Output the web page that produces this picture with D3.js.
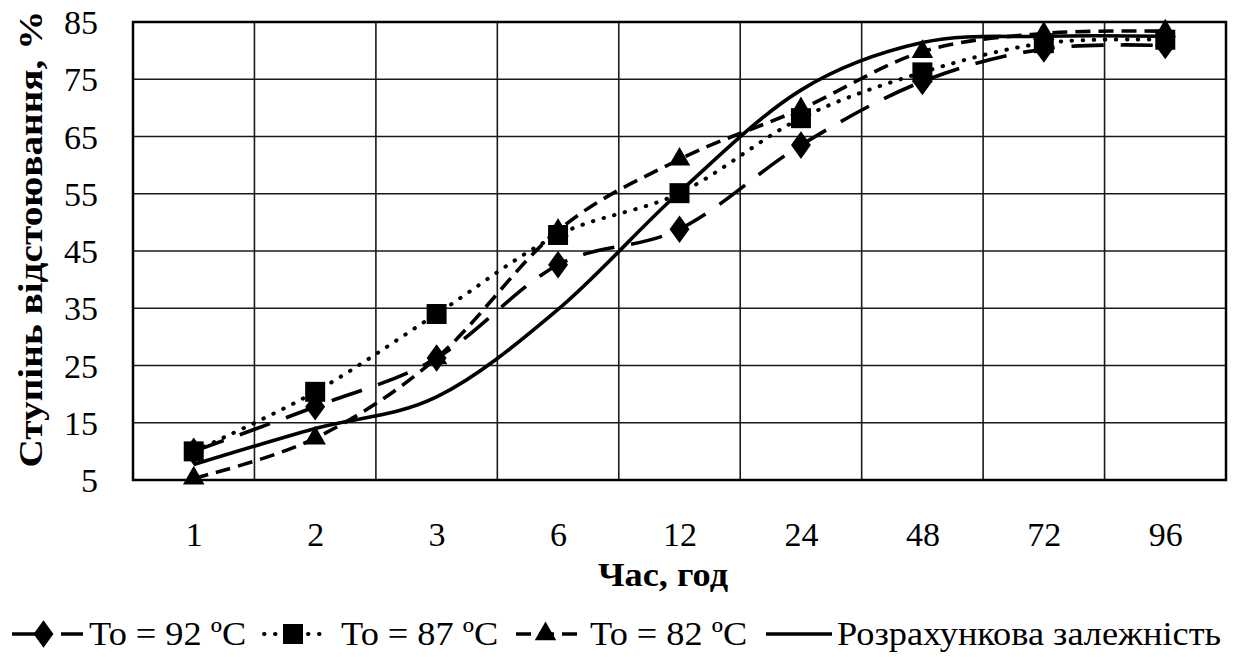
<!DOCTYPE html>
<html>
<head>
<meta charset="utf-8">
<script src="https://cdn.jsdelivr.net/npm/d3@7"></script>
<style>
  html, body { margin: 0; padding: 0; background: #fff; }
  svg { display: block; }
  text { font-family: "Liberation Serif", "Times New Roman", serif; fill: #000; }
</style>
</head>
<body>
<svg id="chart" width="1245" height="657"></svg>
<script>
// Settling time, hours (categorical axis)
const hours = ["1", "2", "3", "6", "12", "24", "48", "72", "96"];
// Degree of settling, % for each initial temperature
const t92 = [10.0, 17.8, 26.3, 42.6, 48.8, 63.5, 74.6, 80.3, 80.9];
const t87 = [10.0, 20.4, 34.0, 47.8, 55.1, 68.2, 76.2, 81.3, 81.9];
const t82 = [5.3, 12.3, 26.3, 48.6, 61.0, 69.8, 79.8, 83.0, 83.4];
// Calculated dependence
const calc = [7.7, 14.0, 19.5, 34.8, 55.3, 73.1, 81.4, 82.5, 82.5];
const yTicks = [5, 15, 25, 35, 45, 55, 65, 75, 85];

const legendLabels = ["To = 92 ºC", "To = 87 ºC", "To = 82 ºC", "Розрахункова залежність"];

const svg = d3.select("#chart");
const L = 133, R = 1226, T = 22, B = 480;
const FONT = "'Liberation Serif', 'Times New Roman', serif";

const x = d3.scalePoint().domain(hours).range([L, R]).padding(0.5);
const y = d3.scaleLinear().domain([5, 85]).range([B, T]);
const step = x.step();

// Grid
const grid = svg.append("g");
grid.selectAll("line.h").data(yTicks).join("line")
  .attr("x1", L).attr("x2", R)
  .attr("y1", d => y(d)).attr("y2", d => y(d))
  .attr("stroke", "#1a1a1a").attr("stroke-width", 1.6);
grid.selectAll("line.v").data(hours.slice(0, -1)).join("line")
  .attr("x1", d => x(d) + step / 2).attr("x2", d => x(d) + step / 2)
  .attr("y1", T).attr("y2", B)
  .attr("stroke", "#1a1a1a").attr("stroke-width", 1.6);
svg.append("rect").attr("x", L).attr("y", T).attr("width", R - L).attr("height", B - T)
  .attr("fill", "none").attr("stroke", "#000").attr("stroke-width", 2.5);

// Axes (labels only, no tick marks)
const yAxis = d3.axisLeft(y).tickValues(yTicks).tickSize(0).tickPadding(35);
const gy = svg.append("g").attr("transform", `translate(${L},0)`).call(yAxis);
gy.select(".domain").remove();
gy.attr("font-family", null);
gy.selectAll("text").attr("font-size", 34).style("font-family", FONT).attr("dy", "0.34em");

const xAxis = d3.axisBottom(x).tickSize(0).tickPadding(42);
const gx = svg.append("g").attr("transform", `translate(0,${B})`).call(xAxis);
gx.select(".domain").remove();
gx.attr("font-family", null);
gx.selectAll("text").attr("font-size", 34).style("font-family", FONT);

// Axis titles
svg.append("text").attr("transform", "translate(663,586) scale(1.1,1)").attr("text-anchor", "middle")
  .attr("font-size", 33).attr("font-weight", "bold").style("font-family", FONT).text("Час, год");
svg.append("text").attr("transform", "translate(42,239) rotate(-90) scale(1.19,1)")
  .attr("text-anchor", "middle").attr("font-size", 33).attr("font-weight", "bold")
  .style("font-family", FONT)
  .text("Ступінь відстоювання, %");

// Series definitions
const series = [
  { values: t92, dash: "32 17", cap: "butt", marker: d3.symbolDiamond, msize: 220 },
  { values: t87, dash: "0.5 10.5", cap: "round", marker: d3.symbolSquare, msize: 400 },
  { values: t82, dash: "15 8", cap: "butt", marker: d3.symbolTriangle, msize: 200 },
  { values: calc, dash: null, cap: "butt", marker: null }
];

const line = d3.line()
  .x((d, i) => x(hours[i]))
  .y(d => y(d))
  .curve(d3.curveCatmullRom.alpha(0));

const plot = svg.append("g");
series.forEach(s => {
  plot.append("path").datum(s.values)
    .attr("d", line)
    .attr("fill", "none").attr("stroke", "#000")
    .attr("stroke-width", s.marker === d3.symbolSquare ? 4 : 3.6)
    .attr("stroke-linecap", s.cap)
    .attr("stroke-dasharray", s.dash);
});
series.forEach(s => {
  if (!s.marker) return;
  plot.selectAll(null).data(s.values).join("path")
    .attr("transform", (d, i) => `translate(${x(hours[i])},${y(d)})${s.marker === d3.symbolDiamond ? " scale(1.25,1)" : ""}`)
    .attr("d", d3.symbol(s.marker, s.msize))
    .attr("fill", "#000");
});

// Legend
const legendItems = [
  { x0: 12, x1: 83, tx: 89 },
  { x0: 264, x1: 330, tx: 341 },
  { x0: 516, x1: 583, tx: 590 },
  { x0: 766, x1: 832, tx: 837 }
];
const ly = 634;
const lg = svg.append("g");
legendItems.forEach((it, i) => {
  const s = series[i];
  lg.append("line").attr("x1", it.x0).attr("x2", it.x1).attr("y1", ly).attr("y2", ly)
    .attr("stroke", "#000").attr("stroke-width", s.marker === d3.symbolSquare ? 4 : 3.6)
    .attr("stroke-linecap", s.cap).attr("stroke-dasharray", s.dash);
  if (s.marker) {
    lg.append("path")
      .attr("transform", `translate(${(it.x0 + it.x1) / 2 - 4},${ly})${s.marker === d3.symbolDiamond ? " scale(1.25,1)" : ""}`)
      .attr("d", d3.symbol(s.marker, s.msize)).attr("fill", "#000");
  }
  lg.append("text").attr("transform", `translate(${it.tx},${ly + 11}) scale(1.1,1)`)
    .attr("font-size", 33).style("font-family", FONT).text(legendLabels[i]);
});
</script>
</body>
</html>
